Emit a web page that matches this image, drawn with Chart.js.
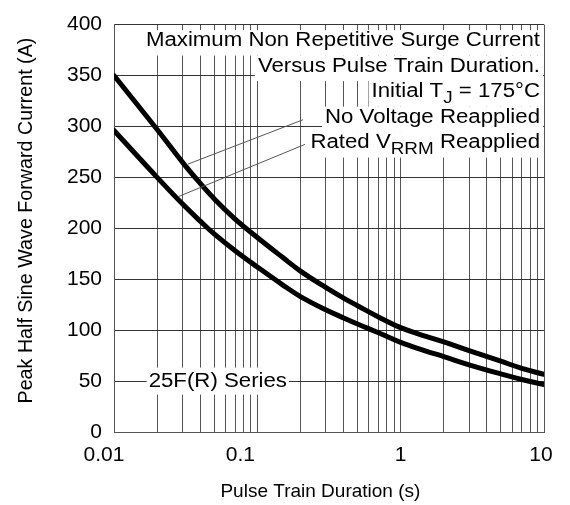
<!DOCTYPE html>
<html>
<head>
<meta charset="utf-8">
<script src="https://cdn.jsdelivr.net/npm/chart.js@4/dist/chart.umd.min.js"></script>
<style>
  html, body { margin: 0; padding: 0; background: #fff; }
  #wrap { width: 570px; height: 505px; }
</style>
</head>
<body>
<div id="wrap"><canvas id="myChart" width="570" height="505"></canvas></div>
<script>
// data
const noVoltX = [0.01, 0.02, 0.03, 0.04, 0.05, 0.07, 0.1, 0.15, 0.2, 0.3, 0.4, 0.5, 0.7, 1, 1.5, 2, 3, 5, 7, 10];
const noVoltY = [350, 297, 265, 244, 229, 209, 191, 171.5, 158, 142, 131.5, 124, 113, 102.5, 94, 88.5, 80, 69.5, 62.5, 56.5];
const ratedX  = [0.01, 0.02, 0.03, 0.04, 0.05, 0.07, 0.1, 0.15, 0.2, 0.3, 0.4, 0.5, 0.7, 1, 1.5, 2, 3, 5, 7, 10];
const ratedY  = [296, 250, 224, 207, 194.5, 178, 162, 144.5, 133, 120, 112, 106, 97.5, 88, 79.5, 74, 66, 57, 51.5, 46.5];

// axis ticks
const xDecades = [0.01, 0.1, 1, 10];
const xTickLabels = ['0.01', '0.1', '1', '10'];
const xGrid = [];
xDecades.forEach((d, i) => {
  const last = i === xDecades.length - 1;
  for (let m = 1; m <= (last ? 1 : 9); m++) xGrid.push(m * d);
});
const yMin = 0, yMax = 400, yStep = 50;

const xTitle = 'Pulse Train Duration (s)';
const yTitle = 'Peak Half Sine Wave Forward Current (A)';

const FONT = '"Liberation Sans", Arial, sans-serif';

// annotation text (right aligned block, top right of plot)
const noteLines = [
  [{t: 'Maximum Non Repetitive Surge Current'}],
  [{t: 'Versus Pulse Train Duration.'}],
  [{t: 'Initial T'}, {t: 'J', sub: true}, {t: ' = 175°C'}],
  [{t: 'No Voltage Reapplied'}],
  [{t: 'Rated V'}, {t: 'RRM', sub: true}, {t: ' Reapplied'}]
];
const seriesLabel = '25F(R) Series';

function pts(xs, ys) { return xs.map((x, i) => ({x: x, y: ys[i]})); }

const notesPlugin = {
  id: 'notes',
  afterDatasetsDraw(chart) {
    const ctx = chart.ctx;
    const xs = chart.scales.x, ys = chart.scales.y;
    const area = chart.chartArea;
    const size = 19.5, sx = 1.14;
    const font = size + 'px ' + FONT;
    const subFont = (size * 0.85) + 'px ' + FONT;

    // leader lines (value coordinates)
    const leaders = [
      [[0.0328, 263], [0.2085, 306.6]],
      [[0.028, 231], [0.215, 282.4]]
    ];
    ctx.save();
    ctx.strokeStyle = '#555';
    ctx.lineWidth = 1;
    leaders.forEach(l => {
      ctx.beginPath();
      ctx.moveTo(xs.getPixelForValue(l[0][0]), ys.getPixelForValue(l[0][1]));
      ctx.lineTo(xs.getPixelForValue(l[1][0]), ys.getPixelForValue(l[1][1]));
      ctx.stroke();
    });

    function runWidth(r) {
      ctx.font = r.sub ? subFont : font;
      return ctx.measureText(r.t).width * sx;
    }

    const right = area.right - 4;
    const base0 = area.top + 21.5;
    const lh = 25.5;
    noteLines.forEach((line, i) => {
      const base = base0 + i * lh;
      const w = line.reduce((s, r) => s + runWidth(r), 0);
      let x = right - w;
      ctx.fillStyle = '#fff';
      ctx.fillRect(x - 3, base - 16, area.right - 1 - (x - 3), lh);
      ctx.fillStyle = '#000';
      ctx.textBaseline = 'alphabetic';
      ctx.textAlign = 'left';
      line.forEach(r => {
        ctx.font = r.sub ? subFont : font;
        ctx.save();
        ctx.translate(x, base + (r.sub ? 6 : 0));
        ctx.scale(sx, 1);
        ctx.fillText(r.t, 0, 0);
        ctx.restore();
        x += runWidth(r);
      });
    });

    // series label on the 50 A line
    ctx.font = font;
    const w = ctx.measureText(seriesLabel).width * sx;
    const cx = xs.getPixelForValue(0.053);
    const cy = ys.getPixelForValue(50);
    ctx.fillStyle = '#fff';
    ctx.fillRect(cx - w / 2 - 2, cy - 13.5, w + 4, 27);
    ctx.fillStyle = '#000';
    ctx.textBaseline = 'middle';
    ctx.save();
    ctx.translate(cx - w / 2, cy + 1);
    ctx.scale(sx, 1);
    ctx.fillText(seriesLabel, 0, 0);
    ctx.restore();

    // decade labels under the x axis (sit a little left of their lines, as in the print)
    const shift = [-10, -17, 0, -3];
    ctx.font = '21px ' + FONT;
    ctx.textAlign = 'center';
    ctx.textBaseline = 'middle';
    xDecades.forEach((d, i) => {
      ctx.fillText(xTickLabels[i], xs.getPixelForValue(d) + shift[i], area.bottom + 23);
    });

    // axis titles
    ctx.font = '19px ' + FONT;
    ctx.fillText(xTitle, area.left + (area.right - area.left) * 0.48, area.bottom + 60);
    ctx.font = '19.7px ' + FONT;
    ctx.save();
    ctx.translate(27, area.top + (area.bottom - area.top) * 0.481);
    ctx.rotate(-Math.PI / 2);
    ctx.fillText(yTitle, 0, 0);
    ctx.restore();
    ctx.restore();
  }
};

const lineStyle = {
  borderColor: '#000',
  borderWidth: 5,
  pointRadius: 0,
  fill: false,
  tension: 0.4,
  borderCapStyle: 'round',
  borderJoinStyle: 'round'
};

new Chart(document.getElementById('myChart').getContext('2d'), {
  type: 'line',
  data: {
    datasets: [
      Object.assign({label: 'No Voltage Reapplied', data: pts(noVoltX, noVoltY)}, lineStyle),
      Object.assign({label: 'Rated VRRM Reapplied', data: pts(ratedX, ratedY)}, lineStyle)
    ]
  },
  options: {
    responsive: false,
    animation: false,
    devicePixelRatio: 1,
    layout: { padding: { top: 18, right: 26, left: 0, bottom: 0 } },
    plugins: { legend: { display: false }, tooltip: { enabled: false } },
    scales: {
      x: {
        type: 'logarithmic',
        min: 0.01,
        max: 10,
        afterBuildTicks(scale) { scale.ticks = xGrid.map(v => ({value: v})); },
        afterFit(scale) { scale.height = 73; },
        grid: { color: '#555', lineWidth: 1, drawTicks: false },
        border: { display: true, color: '#555', width: 1 },
        ticks: {
          autoSkip: false,
          maxRotation: 0,
          padding: 12,
          color: 'rgba(0,0,0,0)',
          font: { family: FONT, size: 21 },
          callback(value) {
            const k = xDecades.findIndex(d => Math.abs(d - value) < d * 1e-6);
            return k >= 0 ? xTickLabels[k] : '';
          }
        },
        title: { display: false, text: xTitle }
      },
      y: {
        type: 'linear',
        min: yMin,
        max: yMax,
        afterFit(scale) { scale.width = 114; },
        grid: { color: '#333', lineWidth: 1, drawTicks: false },
        border: { display: true, color: '#555', width: 1 },
        ticks: {
          stepSize: yStep,
          padding: 12,
          color: '#000',
          font: { family: FONT, size: 21 }
        },
        title: { display: false, text: yTitle }
      }
    }
  },
  plugins: [notesPlugin]
});
</script>
</body>
</html>
